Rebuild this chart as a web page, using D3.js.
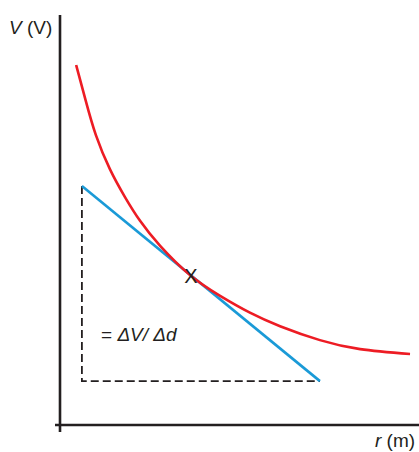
<!DOCTYPE html>
<html>
<head>
<meta charset="utf-8">
<script src="https://cdn.jsdelivr.net/npm/d3@7"></script>
<style>
  html, body { margin: 0; padding: 0; background: #fff; }
  svg { display: block; }
  text { font-family: "Liberation Sans", Arial, sans-serif; fill: #231f20; }
</style>
</head>
<body>
<svg id="chart" width="419" height="452"></svg>
<script>
// Potential V against distance r (arbitrary units)
const curveR = [0.45, 0.72, 1.00, 1.39, 1.81, 2.23, 2.79, 3.62, 4.46, 5.29, 6.13, 7.24, 8.36, 9.75];
const curveV = [8.78, 7.90, 7.07, 6.24, 5.56, 4.98, 4.37, 3.66, 3.15, 2.74, 2.41, 2.07, 1.85, 1.73];

// Tangent to the curve at point X
const tangentR = [0.61, 7.24];
const tangentV = [5.83, 1.07];

// Point X where the tangent touches
const pointR = [3.62];
const pointV = [3.66];

const axisLabels = { y: ["V", " (V)"], x: ["r", " (m)"] };
const gradientLabel = ["= ", "ΔV/ Δd"];

const svg = d3.select("#chart");

const x = d3.scaleLinear().domain([0, 10]).range([60, 419]);
const y = d3.scaleLinear().domain([0, 10]).range([425, 15]);

const ink = "#231f20";

// Axes
svg.append("line")
  .attr("x1", x(0)).attr("x2", x(0))
  .attr("y1", y(10)).attr("y2", y(0) + 7)
  .attr("stroke", ink).attr("stroke-width", 2.6);
svg.append("line")
  .attr("x1", x(0) - 5).attr("x2", x(10))
  .attr("y1", y(0)).attr("y2", y(0))
  .attr("stroke", ink).attr("stroke-width", 2.6);

// Dashed triangle under the tangent
const tri = [
  [tangentR[0], tangentV[0]],
  [tangentR[0], tangentV[1]],
  [tangentR[1], tangentV[1]]
];
svg.append("path")
  .attr("d", d3.line().x(d => x(d[0])).y(d => y(d[1]))(tri))
  .attr("fill", "none")
  .attr("stroke", ink)
  .attr("stroke-width", 1.8)
  .attr("stroke-dasharray", "8,4");

// Tangent line
svg.append("path")
  .attr("d", d3.line().x(d => x(d[0])).y(d => y(d[1]))(tangentR.map((r, i) => [r, tangentV[i]])))
  .attr("fill", "none")
  .attr("stroke", "#1a9ad7")
  .attr("stroke-width", 2.6);

// Potential curve
svg.append("path")
  .attr("d", d3.line().curve(d3.curveNatural)
    .x(d => x(d[0])).y(d => y(d[1]))(curveR.map((r, i) => [r, curveV[i]])))
  .attr("fill", "none")
  .attr("stroke", "#ed1c24")
  .attr("stroke-width", 2.6);

// Point X
svg.selectAll("text.pt").data(pointR).enter().append("text")
  .attr("class", "pt")
  .attr("x", d => x(d) + 1)
  .attr("y", (d, i) => y(pointV[i]) + 8)
  .attr("text-anchor", "middle")
  .attr("font-size", 20)
  .text("X");

// Gradient label
const g = svg.append("text")
  .attr("x", 101).attr("y", 341)
  .attr("font-size", 19);
g.append("tspan").text(gradientLabel[0]);
g.append("tspan").attr("font-style", "italic").text(gradientLabel[1]);

// Axis titles
const yt = svg.append("text").attr("x", 9).attr("y", 34).attr("font-size", 19);
yt.append("tspan").attr("font-style", "italic").text(axisLabels.y[0]);
yt.append("tspan").text(axisLabels.y[1]);

const xt = svg.append("text").attr("x", 375).attr("y", 447).attr("font-size", 19);
xt.append("tspan").attr("font-style", "italic").text(axisLabels.x[0]);
xt.append("tspan").text(axisLabels.x[1]);
</script>
</body>
</html>
